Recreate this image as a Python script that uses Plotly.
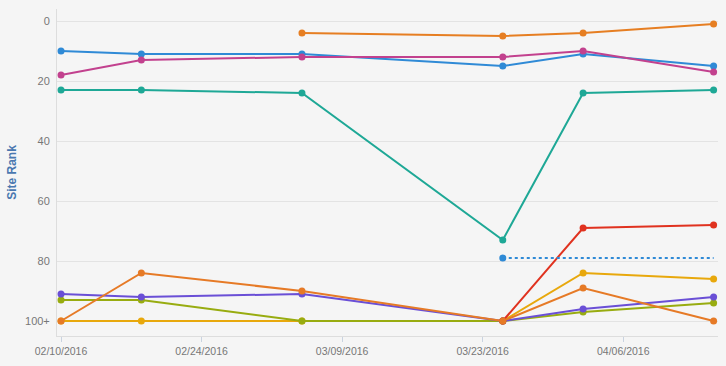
import plotly.graph_objects as go

dates = ["2016-02-10", "2016-02-18", "2016-03-05", "2016-03-25", "2016-04-02", "2016-04-15"]

rank_orange_top = [None, None, 4, 5, 4, 1]
rank_blue = [10, 11, 11, 15, 11, 15]
rank_magenta = [18, 13, 12, 12, 10, 17]
rank_teal = [23, 23, 24, 73, 24, 23]
rank_red = [None, None, None, 100, 69, 68]
rank_blue_dotted = [None, None, None, 79, None, 79]
rank_yellow = [100, 100, 100, 100, 84, 86]
rank_green = [93, 93, 100, 100, 97, 94]
rank_purple = [91, 92, 91, 100, 96, 92]
rank_orange_bottom = [100, 84, 90, 100, 89, 100]

y_tickvals = [0, 20, 40, 60, 80, 100]
y_ticktext = ["0", "20", "40", "60", "80", "100+"]
x_tickvals = ["2016-02-10", "2016-02-24", "2016-03-09", "2016-03-23", "2016-04-06"]
x_ticktext = ["02/10/2016", "02/24/2016", "03/09/2016", "03/23/2016", "04/06/2016"]

series = [
    (rank_orange_top, "#e67e22"),
    (rank_blue, "#2f8ad6"),
    (rank_magenta, "#c2418e"),
    (rank_teal, "#1ea896"),
    (rank_yellow, "#e8a80c"),
    (rank_green, "#98ac10"),
    (rank_purple, "#6a4fd6"),
    (rank_red, "#e0321f"),
    (rank_orange_bottom, "#e67a26"),
]

fig = go.Figure()
for vals, col in series:
    xs = [d for d, v in zip(dates, vals) if v is not None]
    ys = [v for v in vals if v is not None]
    fig.add_trace(go.Scatter(x=xs, y=ys, mode="lines+markers",
                             line=dict(color=col, width=2),
                             marker=dict(color=col, size=7),
                             hoverinfo="skip", showlegend=False))

xs = [d for d, v in zip(dates, rank_blue_dotted) if v is not None]
ys = [v for v in rank_blue_dotted if v is not None]
fig.add_trace(go.Scatter(x=xs, y=ys, mode="lines",
                         line=dict(color="#2f8ad6", width=2, dash="dot"),
                         hoverinfo="skip", showlegend=False))
fig.add_trace(go.Scatter(x=xs[:1], y=ys[:1], mode="markers",
                         marker=dict(color="#2f8ad6", size=7),
                         hoverinfo="skip", showlegend=False))

fig.update_layout(
    width=726, height=366,
    margin=dict(l=57, r=8, t=9, b=30),
    paper_bgcolor="#f5f5f5", plot_bgcolor="#f5f5f5",
    font=dict(family="Liberation Sans, Arial, sans-serif", size=10.5, color="#777777"),
    xaxis=dict(range=["2016-02-09 14:24", "2016-04-15 10:30"],
               tickvals=x_tickvals, ticktext=x_ticktext, automargin=False,
               showgrid=False, showline=True, linecolor="#dddddd", linewidth=1,
               ticks="outside", ticklen=5, tickcolor="#c9d3e0", zeroline=False),
    yaxis=dict(range=[105, -4], tickvals=y_tickvals, ticktext=y_ticktext, automargin=False,
               showgrid=True, gridcolor="#e3e3e3", gridwidth=1,
               showline=True, linecolor="#dddddd", zeroline=False, ticklabelstandoff=4,
               tickfont=dict(size=11),
               ticks="", title=dict(text="<b>Site Rank</b>", font=dict(color="#4a78b0", size=12), standoff=5)),
)

fig.write_html("out.html", config={"displayModeBar": False},
               post_script="document.body.style.margin='0';document.body.style.padding='0';document.body.style.background='#f5f5f5';")
